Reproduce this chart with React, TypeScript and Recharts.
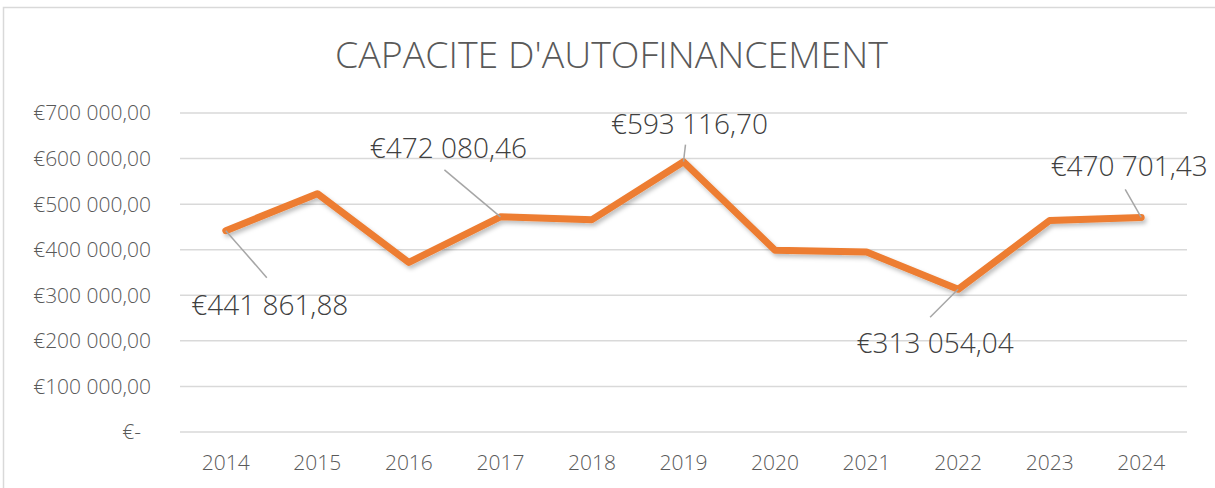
import React from "react";
import {
  LineChart,
  Line,
  XAxis,
  YAxis,
  CartesianGrid,
  LabelList,
} from "recharts";

const years = ["2014", "2015", "2016", "2017", "2018", "2019", "2020", "2021", "2022", "2023", "2024"];
const cafValues = [
  441861.88, 523000, 372000, 472080.46, 466000, 593116.7, 399000, 395000, 313054.04, 464000, 470701.43,
];
const yTicks = [0, 100000, 200000, 300000, 400000, 500000, 600000, 700000];
const labelledYears = ["2014", "2017", "2019", "2022", "2024"];

// where each data label sits relative to its point (text anchor = middle, y = baseline)
const labelPlacement: Record<string, { tx: number; ty: number; lx: number; ly: number }> = {
  "2014": { tx: 44, ty: 84, lx: 41, ly: 47 },
  "2017": { tx: -52, ty: -59, lx: -56, ly: -47 },
  "2019": { tx: 6, ty: -28, lx: 2, ly: -17 },
  "2022": { tx: -23, ty: 64, lx: -28, ly: 28 },
  "2024": { tx: -12, ty: -41, lx: -16, ly: -28 },
};

const data = years.map((year, i) => ({ year, caf: cafValues[i] }));

const FONT = "'Open Sans', 'Liberation Sans', sans-serif";

function euro(v: number) {
  const [intPart, dec] = v.toFixed(2).split(".");
  const grouped = intPart.replace(/\B(?=(\d{3})+(?!\d))/g, " ");
  return `€${grouped},${dec}`;
}

function YTick(props: any) {
  const { x, y, payload } = props;
  const v = payload.value as number;
  return (
    <text
      x={v === 0 ? x - 10 : x}
      y={y}
      dy="0.355em"
      textAnchor="end"
      fill="#595959"
      fontSize={21}
      fontWeight={300}
      fontFamily={FONT}
    >
      {v === 0 ? "€-" : euro(v)}
    </text>
  );
}

function PointLabel(props: any) {
  const { x, y, index } = props;
  const year = years[index];
  if (!labelledYears.includes(year)) return null;
  const p = labelPlacement[year];
  return (
    <g>
      <line x1={x} y1={y} x2={x + p.lx} y2={y + p.ly} stroke="#A6A6A6" strokeWidth={1.5} />
      <text
        x={x + p.tx}
        y={y + p.ty}
        textAnchor="middle"
        fill="#404040"
        fontSize={28}
        fontWeight={300}
        fontFamily={FONT}
      >
        {euro(cafValues[index])}
      </text>
    </g>
  );
}

export default function App() {
  return (
    <div
      style={{
        position: "absolute",
        top: 0,
        left: 0,
        width: 1215,
        height: 488,
        background: "#fff",
        overflow: "hidden",
      }}
    >
      <svg width={0} height={0} style={{ position: "absolute" }}>
        <defs>
          <filter id="lineShadow" x="-10%" y="-20%" width="120%" height="150%">
            <feDropShadow dx={2} dy={3} stdDeviation={2} floodColor="#000" floodOpacity={0.25} />
          </filter>
        </defs>
      </svg>
      <svg width={1215} height={488} style={{ position: "absolute", top: 0, left: 0 }}>
        <rect x={3.5} y={7.5} width={1220} height={500} fill="none" stroke="#D9D9D9" strokeWidth={1.5} />
        <text
          x={611.5}
          y={68}
          textAnchor="middle"
          fill="#595959"
          fontSize={36}
          fontWeight={300}
          fontFamily={FONT}
          textLength={553}
          lengthAdjust="spacingAndGlyphs"
        >
          CAPACITE D'AUTOFINANCEMENT
        </text>
      </svg>
      <div style={{ position: "absolute", top: 0, left: 0 }}>
        <LineChart
          width={1215}
          height={488}
          data={data}
          margin={{ top: 113, right: 28, bottom: 16, left: 10 }}
        >
          <CartesianGrid vertical={false} stroke="#D9D9D9" strokeWidth={1.5} />
          <XAxis
            dataKey="year"
            height={40}
            axisLine={false}
            tickLine={false}
            tickSize={0}
            tickMargin={23}
            padding={{ left: 45.8, right: 45.8 }}
            tick={{ fontSize: 21, fill: "#595959", fontFamily: FONT, fontWeight: 300 }}
            interval={0}
          />
          <YAxis
            width={170}
            domain={[0, 700000]}
            ticks={yTicks}
            axisLine={false}
            tickLine={false}
            tickSize={0}
            tickMargin={29}
            tick={<YTick />}
            interval={0}
          />
          <Line
            type="linear"
            dataKey="caf"
            stroke="#ED7D31"
            strokeWidth={7}
            strokeLinejoin="round"
            strokeLinecap="round"
            filter="url(#lineShadow)"
            dot={false}
            activeDot={false}
            isAnimationActive={false}
          >
            <LabelList dataKey="caf" content={<PointLabel />} />
          </Line>
        </LineChart>
      </div>
    </div>
  );
}
